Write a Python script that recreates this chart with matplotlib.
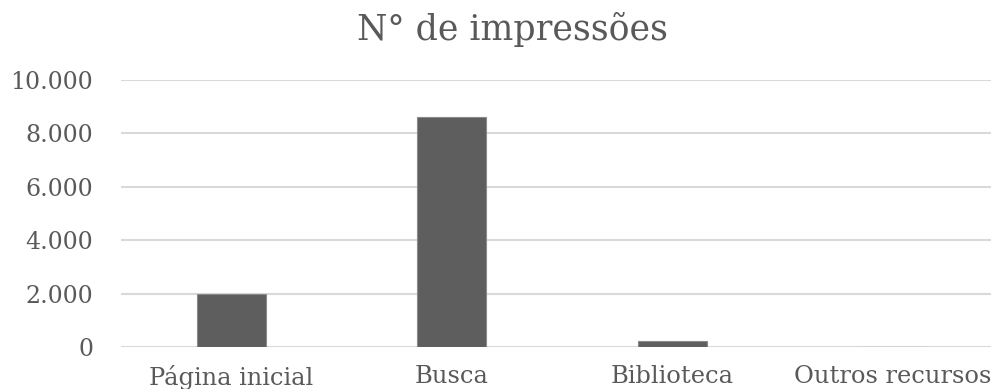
import matplotlib
matplotlib.use("Agg")
import matplotlib.pyplot as plt
from matplotlib.ticker import FuncFormatter

categories = ["Página inicial", "Busca", "Biblioteca", "Outros recursos"]
impressions = [2000, 8600, 220, 0]
yticks = [0, 2000, 4000, 6000, 8000, 10000]
title = "N° de impressões"

W, H = 991, 389
fig = plt.figure(figsize=(W / 100, H / 100), dpi=100)
fig.patch.set_facecolor("white")

left_px, right_px = 121, 1003
bottom_px, top_px = 347, 80
ax = fig.add_axes([left_px / W, (H - bottom_px) / H,
                   (right_px - left_px) / W, (bottom_px - top_px) / H])

x = list(range(len(categories)))
ax.bar(x, impressions, width=0.315, color="#5e5e5e", edgecolor="#8a8a8a",
       linewidth=0.8, zorder=3)

ax.set_xlim(-0.5, len(categories) - 0.5)
ax.set_ylim(0, 10000)
ax.set_yticks(yticks)
ax.yaxis.set_major_formatter(FuncFormatter(lambda v, p: f"{int(v):,}".replace(",", ".")))
ax.grid(axis="y", color="#d9d9d9", linewidth=1.5, zorder=0)
for s in ax.spines.values():
    s.set_visible(False)
ax.tick_params(axis="both", length=0)
ax.tick_params(axis="y", pad=20, labelsize=17, labelcolor="#595959")
ax.tick_params(axis="x", pad=13, labelsize=17.4, labelcolor="#595959")
ax.set_xticks(x)
ax.set_xticklabels(categories)
for lab in ax.get_xticklabels() + ax.get_yticklabels():
    lab.set_family("DejaVu Serif")

fig.text(512 / W, 1 - 40 / H, title, ha="center", va="baseline",
         fontsize=25, color="#595959", family="DejaVu Serif")

fig.savefig("out.png", dpi=100, facecolor="white")
